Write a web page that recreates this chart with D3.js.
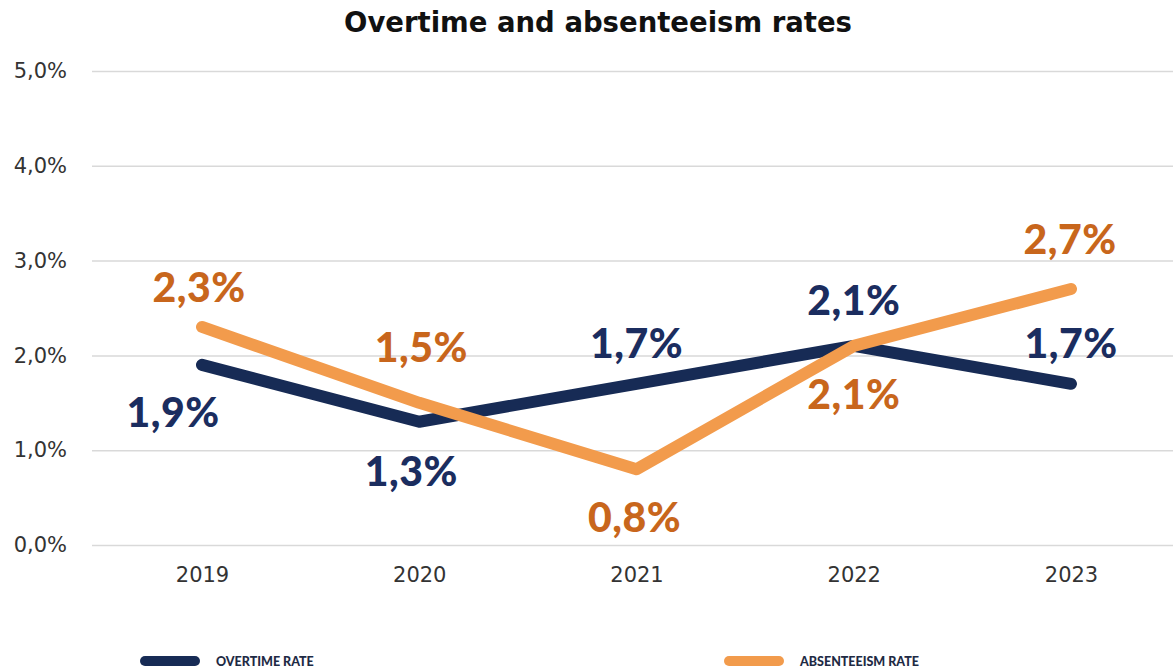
<!DOCTYPE html>
<html>
<head>
<meta charset="utf-8">
<script src="https://cdn.jsdelivr.net/npm/d3@7"></script>
<style>
  html, body { margin: 0; padding: 0; background: #ffffff; }
  svg { display: block; }
</style>
</head>
<body>
<svg id="chart" width="1173" height="672"></svg>
<script>
// Chart data
const years = ["2019", "2020", "2021", "2022", "2023"];
const overtimeRate = [1.9, 1.3, 1.7, 2.1, 1.7];
const absenteeismRate = [2.3, 1.5, 0.8, 2.1, 2.7];
const yTicks = [0, 1, 2, 3, 4, 5];
const seriesNames = ["OVERTIME RATE", "ABSENTEEISM RATE"];

const W = 1173, H = 672;
const svg = d3.select("#chart");
const fmt = v => d3.format(".1f")(v).replace(".", ",") + "%";

const x = d3.scalePoint().domain(years).range([202, 1071]);
const y = d3.scaleLinear().domain([0, 5]).range([545, 71]);

const lineColors = ["#172b55", "#f29b4c"];
const labelColors = ["#1b2d5f", "#c8661c"];
const boldFont = "Lato, 'DejaVu Sans', sans-serif";
const wideFont = "'DejaVu Sans', sans-serif";

// Title
svg.append("text")
  .attr("x", 598).attr("y", 32)
  .attr("text-anchor", "middle")
  .attr("font-family", wideFont).attr("font-weight", 700)
  .attr("font-size", 27.5).attr("fill", "#111")
  .text("Overtime and absenteeism rates");

// Gridlines and y tick labels
const yAxis = d3.axisLeft(y).tickValues(yTicks).tickFormat(d => fmt(d))
  .tickSize(-(W - 92)).tickPadding(24);
const gy = svg.append("g").attr("transform", "translate(92,0)").call(yAxis);
gy.select(".domain").remove();
gy.selectAll(".tick line").attr("stroke", "#d9d9d9").attr("stroke-width", 1.5);
gy.selectAll(".tick text")
  .attr("font-family", wideFont).attr("font-size", 21).attr("fill", "#333")
  .attr("x", -25);

// x axis labels
const xAxis = d3.axisBottom(x).tickSize(0).tickPadding(22);
const gx = svg.append("g").attr("transform", "translate(0,545)").call(xAxis);
gx.select(".domain").remove();
gx.selectAll(".tick text")
  .attr("font-family", wideFont).attr("font-size", 21).attr("fill", "#333");

// Lines
const series = [overtimeRate, absenteeismRate];
const line = d3.line().x((d, i) => x(years[i])).y(d => y(d));
series.forEach((vals, s) => {
  svg.append("path")
    .datum(vals)
    .attr("d", line)
    .attr("fill", "none")
    .attr("stroke", lineColors[s])
    .attr("stroke-width", 12)
    .attr("stroke-linecap", "round")
    .attr("stroke-linejoin", "round");
});

// Value labels: per-point placement (dx, dy) from the marker
const placement = [
  [[-29, 47], [-8, 49], [0, -41], [0, -46], [0, -41]],
  [[-3, -40], [2, -56], [-2, 48], [0, 48], [-1, -50]]
];
series.forEach((vals, s) => {
  svg.append("g").selectAll("text")
    .data(vals)
    .join("text")
    .attr("x", (d, i) => x(years[i]) + placement[s][i][0])
    .attr("y", (d, i) => y(d) + placement[s][i][1])
    .attr("dy", "0.36em")
    .attr("text-anchor", "middle")
    .attr("font-family", boldFont).attr("font-weight", 900)
    .attr("font-size", 41).attr("letter-spacing", 0.5)
    .attr("fill", labelColors[s])
    .text(d => fmt(d));
});

// Legend
const legendX = [140, 724];
seriesNames.forEach((name, s) => {
  const g = svg.append("g").attr("transform", `translate(${legendX[s]},661)`);
  g.append("line")
    .attr("x1", 5).attr("x2", 55).attr("y1", 0).attr("y2", 0)
    .attr("stroke", lineColors[s]).attr("stroke-width", 10)
    .attr("stroke-linecap", "round");
  g.append("text")
    .attr("x", 76).attr("y", 0).attr("dy", "0.36em")
    .attr("font-family", boldFont).attr("font-weight", 900)
    .attr("font-size", 12.5).attr("fill", "#1e2a44")
    .text(name);
});
</script>
</body>
</html>
